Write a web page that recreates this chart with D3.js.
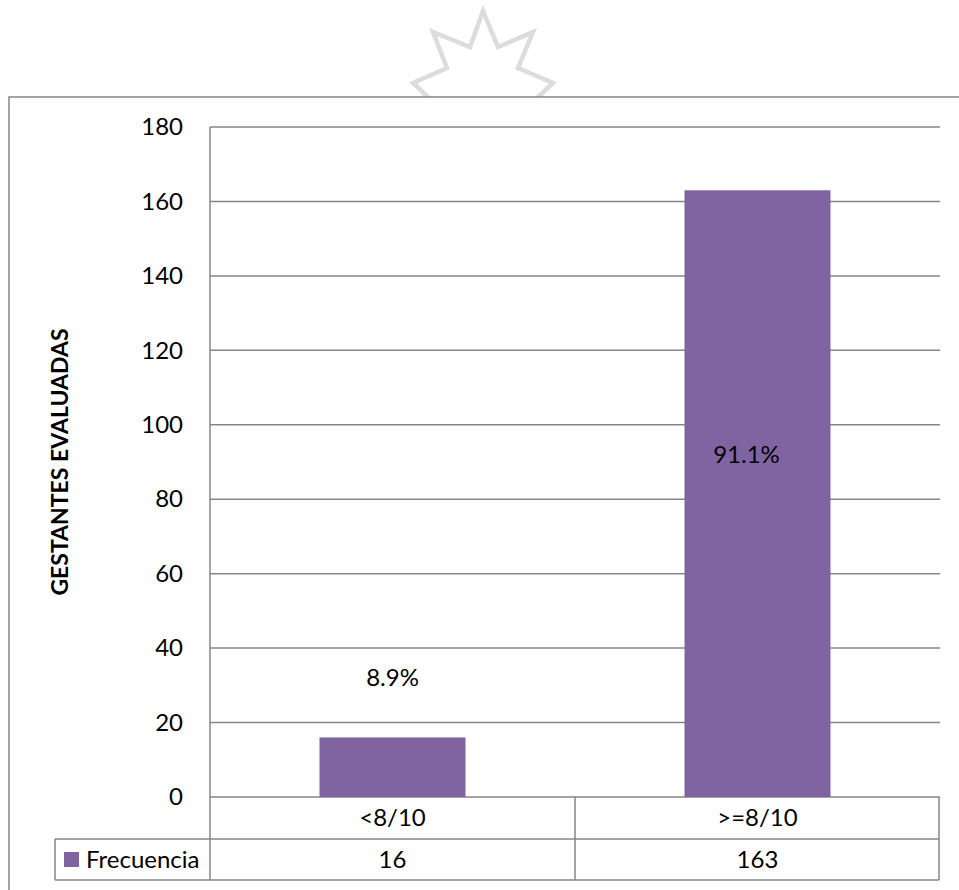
<!DOCTYPE html>
<html>
<head>
<meta charset="utf-8">
<script src="https://cdn.jsdelivr.net/npm/d3@7"></script>
<style>
  html, body { margin: 0; padding: 0; background: #fff; }
  svg { display: block; }
  text { font-family: Lato, "Liberation Sans", sans-serif; fill: #000; }
</style>
</head>
<body>
<svg id="chart" width="959" height="890"></svg>
<script>
// ---- data ----
const categories = ["<8/10", ">=8/10"];
const frecuencia = [16, 163];
const percentLabels = ["8.9%", "91.1%"];
const yTicks = [0, 20, 40, 60, 80, 100, 120, 140, 160, 180];
const seriesName = "Frecuencia";
const yTitle = "GESTANTES EVALUADAS";

// ---- layout ----
const svg = d3.select("#chart");
const W = 959, H = 890;
const plot = { left: 210, right: 940, top: 127, bottom: 797 };
const gridColor = "#868686";
const barColor = "#8064A2";
const fs = 24;

// watermark star (decorative, partially visible above the chart frame)
const star = [[483,11],[498,47],[533,32],[518,68],[553,83],[535,100],[431,100],[413,83],[447,68],[433,32],[470,47]];
svg.append("path")
  .attr("d", d3.line()(star) + "Z")
  .attr("fill", "none")
  .attr("stroke", "#dcdcdc")
  .attr("stroke-width", 4.5)
  .attr("stroke-linejoin", "miter");

// chart frame
svg.append("rect").attr("x", 9).attr("y", 97).attr("width", W).attr("height", H)
  .attr("fill", "#fff").attr("stroke", "#878787").attr("stroke-width", 1.5);

const y = d3.scaleLinear().domain([0, 180]).range([plot.bottom, plot.top]);
const x = d3.scaleBand().domain(categories).range([plot.left, plot.right])
  .paddingInner(0.6).paddingOuter(0.3);

// gridlines
svg.append("g").selectAll("line").data(yTicks).join("line")
  .attr("x1", plot.left).attr("x2", plot.right)
  .attr("y1", d => y(d)).attr("y2", d => y(d))
  .attr("stroke", gridColor).attr("stroke-width", 1.5);

// y axis via d3 axis for labels
const yAxis = svg.append("g").attr("transform", `translate(${plot.left},0)`)
  .call(d3.axisLeft(y).tickValues(yTicks).tickSize(0).tickPadding(27));
yAxis.select(".domain").remove();
yAxis.selectAll("text").attr("font-size", fs).attr("font-family", "Lato, 'Liberation Sans', sans-serif").attr("fill", "#000");

// bars
svg.append("g").selectAll("rect").data(frecuencia).join("rect")
  .attr("x", (d, i) => x(categories[i]))
  .attr("width", x.bandwidth())
  .attr("y", d => y(d))
  .attr("height", d => y(0) - y(d))
  .attr("fill", barColor);

// percent labels (manually placed in the original)
const labelAt = [32, 92];
const labelDx = [0, -11];
svg.append("g").selectAll("text").data(percentLabels).join("text")
  .attr("x", (d, i) => x(categories[i]) + x.bandwidth() / 2 + labelDx[i])
  .attr("y", (d, i) => y(labelAt[i]))
  .attr("dy", "0.35em")
  .attr("text-anchor", "middle")
  .attr("font-size", fs)
  .text(d => d);

// y axis line (through table)
const tRow1 = 839, tRow2 = 880, legendLeft = 55, tableRight = 939;
svg.append("line").attr("x1", plot.left).attr("x2", plot.left)
  .attr("y1", plot.top).attr("y2", tRow2)
  .attr("stroke", gridColor).attr("stroke-width", 1.5);

// data table
const tbl = svg.append("g").attr("stroke", gridColor).attr("stroke-width", 1.5);
tbl.append("line").attr("x1", legendLeft).attr("x2", tableRight).attr("y1", tRow1).attr("y2", tRow1);
tbl.append("line").attr("x1", legendLeft).attr("x2", tableRight).attr("y1", tRow2).attr("y2", tRow2);
tbl.append("line").attr("x1", legendLeft).attr("x2", legendLeft).attr("y1", tRow1).attr("y2", tRow2);
const colEdges = [plot.left + x.step(), tableRight];
tbl.selectAll("line.col").data(colEdges).join("line").attr("class", "col")
  .attr("x1", d => d).attr("x2", d => d).attr("y1", plot.bottom).attr("y2", tRow2);

// category row
svg.append("g").selectAll("text").data(categories).join("text")
  .attr("x", d => x(d) + x.bandwidth() / 2)
  .attr("y", (plot.bottom + tRow1) / 2)
  .attr("dy", "0.35em").attr("text-anchor", "middle").attr("font-size", fs)
  .text(d => d);

// value row
svg.append("g").selectAll("text").data(frecuencia).join("text")
  .attr("x", (d, i) => x(categories[i]) + x.bandwidth() / 2)
  .attr("y", (tRow1 + tRow2) / 2)
  .attr("dy", "0.35em").attr("text-anchor", "middle").attr("font-size", fs)
  .text(d => d);

// legend key in table
svg.append("rect").attr("x", 64).attr("y", 852).attr("width", 15).attr("height", 15).attr("fill", barColor);
svg.append("text").attr("x", 86).attr("y", (tRow1 + tRow2) / 2).attr("dy", "0.35em")
  .attr("font-size", fs).text(seriesName);

// y axis title
svg.append("text")
  .attr("transform", `translate(60,462) rotate(-90)`)
  .attr("dy", "0.35em")
  .attr("text-anchor", "middle")
  .attr("font-size", 23).attr("font-weight", "bold")
  .text(yTitle);
</script>
</body>
</html>
